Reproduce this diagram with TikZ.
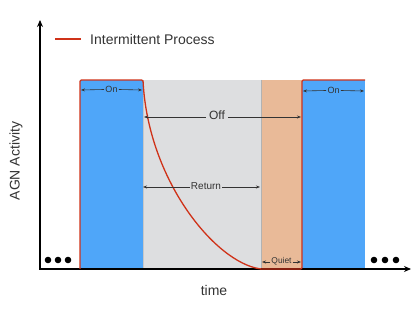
\documentclass[tikz,border=0pt]{standalone}
\usepackage{fontspec}
\setmainfont{Liberation Sans}
\usetikzlibrary{arrows.meta}
\definecolor{onblue}{HTML}{4FA6F9}
\definecolor{offgrey}{HTML}{DDDEE0}
\definecolor{quietorange}{HTML}{E9BA98}
\definecolor{procred}{HTML}{CF3219}
\definecolor{txt}{HTML}{333333}
\tikzset{
  region/.style={draw=none},
  dim/.style={draw=txt, line width=0.6pt, -{Stealth[length=4pt,width=3pt]}},
  dimlabel/.style={text=txt, inner sep=1.2pt, font=\fontsize{#1}{#1}\selectfont},
  axis/.style={line width=1.4pt, -{Stealth[length=7pt,width=6pt]}},
  proc/.style={draw=procred, line width=1.3pt, rounded corners=1.2pt},
  dot/.style={circle, fill=black, inner sep=0pt, minimum size=6.6pt},
  lbl/.style={text=txt, font=\fontsize{14}{14}\selectfont}
}
\begin{document}
\begin{tikzpicture}[x=1pt,y=-1pt]
\useasboundingbox (0,0) rectangle (415,312);
% regions
\fill[onblue] (80,80) rectangle (143,269);
\fill[offgrey] (143,80) rectangle (261,269);
\fill[quietorange] (261,80) rectangle (302,269);
\fill[onblue] (302,80) rectangle (365,269);
\draw[black!30, line width=0.6pt] (261,80) -- (261,269);
\draw[black!22, line width=0.5pt] (143,80) -- (143,269);
% axes
\coordinate (origin) at (40,269);
\coordinate (ytip) at (40,20);
\coordinate (xtip) at (411,269);
\draw[axis] (origin) -- (ytip);
\draw[axis] ([xshift=-0.7pt]origin) -- (xtip);
% process curve
\draw[proc] (80,269) -- (80,80) -- (143,80)
  .. controls (148,180) and (215,262) .. (261,269) -- (302,269) -- (302,80) -- (365,80);
% legend
\coordinate (lega) at (55,39);
\coordinate (legb) at (81,39);
\draw[draw=procred, line width=1.3pt] (lega) -- (legb);
\node[lbl, anchor=west, inner sep=0pt] (legtext) at (90,39) {Intermittent Process};
% axis labels
\node[lbl] (xlabel) at (214,290) {time};
\node[lbl, rotate=90] (ylabel) at (16,161) {AGN Activity};
% dots
\node[dot] (l1) at (48,260) {};
\node[dot] (l2) at (58,260) {};
\node[dot] (l3) at (68,260) {};
\node[dot] (r1) at (374,260) {};
\node[dot] (r2) at (385,260) {};
\node[dot] (r3) at (396,260) {};
% On 1
\coordinate (on1a) at (81,90);
\coordinate (on1b) at (142,90);
\node[dimlabel=9] (on1) at (111.5,89.5) {On};
\draw[dim] (on1.west) -- (on1a);
\draw[dim] (on1.east) -- (on1b);
% On 2
\coordinate (on2a) at (303,91);
\coordinate (on2b) at (364,91);
\node[dimlabel=9] (on2) at (333.5,90.5) {On};
\draw[dim] (on2.west) -- (on2a);
\draw[dim] (on2.east) -- (on2b);
% Off
\coordinate (offa) at (144,117);
\coordinate (offb) at (301,117);
\node[dimlabel=12, inner sep=3pt] (off) at (217,115) {Off};
\draw[dim] (off.west |- offa) -- (offa);
\draw[dim] (off.east |- offb) -- (offb);
% Return
\coordinate (reta) at (143,187);
\coordinate (retb) at (260,187);
\node[dimlabel=10] (ret) at (206,186) {Return};
\draw[dim] (ret.west |- reta) -- (reta);
\draw[dim] (ret.east |- retb) -- (retb);
% Quiet
\coordinate (qa) at (262,262);
\coordinate (qb) at (301,262);
\node[dimlabel=8.4, inner sep=0.8pt] (quiet) at (281.5,261.5) {Quiet};
\draw[dim] (quiet.west |- qa) -- (qa);
\draw[dim] (quiet.east |- qb) -- (qb);
\end{tikzpicture}
\end{document}
